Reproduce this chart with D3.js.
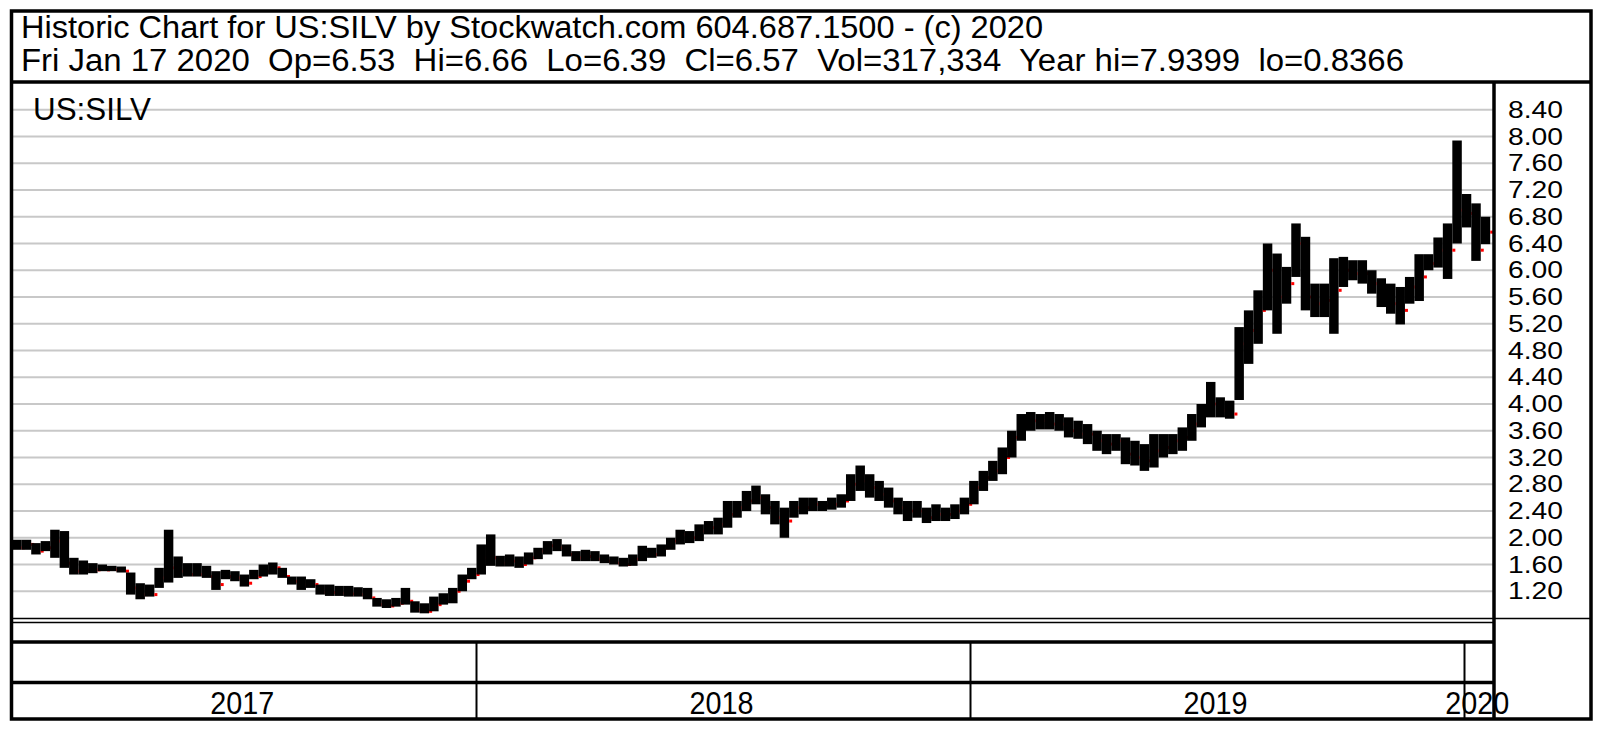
<!DOCTYPE html>
<html><head><meta charset="utf-8">
<script src="https://cdn.jsdelivr.net/npm/d3@7/dist/d3.min.js"></script>
<style>html,body{margin:0;padding:0;background:#fff;}svg{display:block;font-family:"Liberation Sans",Arial,sans-serif;}</style>
</head><body>
<svg id="chart" width="1600" height="730"></svg>
<script>
// ---- data (weekly high / low / close) ----
const firstWeek = new Date(2017, 0, 23);
const highs = [1.97,1.97,1.92,1.95,2.12,2.10,1.70,1.66,1.62,1.60,
  1.58,1.57,1.48,1.32,1.30,1.55,2.12,1.72,1.62,1.62,
  1.58,1.50,1.52,1.50,1.45,1.52,1.60,1.63,1.55,1.42,
  1.42,1.38,1.30,1.30,1.28,1.28,1.26,1.25,1.10,1.08,
  1.10,1.25,1.05,1.02,1.12,1.17,1.25,1.45,1.55,1.90,
  2.05,1.73,1.75,1.72,1.78,1.85,1.95,1.98,1.90,1.80,
  1.82,1.80,1.75,1.72,1.70,1.75,1.88,1.85,1.90,2.00,
  2.12,2.10,2.20,2.25,2.30,2.55,2.55,2.70,2.78,2.65,
  2.55,2.45,2.55,2.60,2.60,2.55,2.60,2.65,2.95,3.08,
  2.95,2.85,2.75,2.60,2.55,2.55,2.45,2.50,2.45,2.50,
  2.60,2.85,3.00,3.15,3.35,3.60,3.85,3.88,3.85,3.88,
  3.85,3.80,3.75,3.70,3.60,3.55,3.55,3.50,3.45,3.40,
  3.55,3.55,3.55,3.65,3.85,4.00,4.33,4.10,4.05,5.15,
  5.40,5.70,6.40,6.25,6.05,6.70,6.50,5.80,5.80,6.18,
  6.20,6.15,6.15,6.00,5.88,5.80,5.75,5.90,6.24,6.24,
  6.49,6.70,7.94,7.14,7.00,6.80];
const lows = [1.82,1.82,1.75,1.80,1.70,1.55,1.45,1.45,1.47,1.50,
  1.50,1.48,1.15,1.08,1.12,1.25,1.33,1.40,1.42,1.42,
  1.40,1.22,1.38,1.35,1.27,1.38,1.42,1.45,1.40,1.30,
  1.22,1.25,1.15,1.13,1.13,1.12,1.12,1.08,0.97,0.95,
  0.97,1.00,0.88,0.87,0.90,1.00,1.02,1.20,1.38,1.45,
  1.58,1.57,1.57,1.55,1.60,1.68,1.75,1.80,1.72,1.65,
  1.65,1.65,1.62,1.60,1.57,1.58,1.65,1.70,1.72,1.82,
  1.90,1.92,1.95,2.05,2.05,2.15,2.30,2.40,2.50,2.35,
  2.20,2.00,2.30,2.35,2.40,2.40,2.42,2.45,2.55,2.70,
  2.60,2.55,2.45,2.35,2.25,2.30,2.22,2.25,2.25,2.28,
  2.35,2.50,2.70,2.85,2.95,3.20,3.45,3.60,3.62,3.62,
  3.60,3.50,3.48,3.40,3.30,3.25,3.30,3.10,3.08,3.00,
  3.05,3.20,3.25,3.30,3.45,3.65,3.80,3.80,3.78,4.06,
  4.60,4.90,5.40,5.05,5.50,5.90,5.40,5.30,5.30,5.05,
  5.75,5.85,5.80,5.65,5.45,5.35,5.19,5.50,5.54,6.00,
  6.04,5.87,6.40,6.64,6.14,6.39];
const closes = [1.85,1.90,1.80,1.85,1.95,1.62,1.50,1.52,1.52,1.52,
  1.52,1.50,1.25,1.15,1.15,1.40,1.55,1.50,1.45,1.45,
  1.42,1.30,1.42,1.40,1.32,1.42,1.50,1.55,1.42,1.35,
  1.30,1.30,1.18,1.18,1.17,1.16,1.15,1.10,1.00,0.98,
  1.02,1.05,0.92,0.90,1.00,1.05,1.20,1.35,1.45,1.70,
  1.70,1.62,1.65,1.60,1.70,1.80,1.88,1.85,1.75,1.70,
  1.72,1.68,1.65,1.62,1.60,1.68,1.80,1.75,1.85,1.95,
  2.05,2.00,2.10,2.15,2.20,2.35,2.45,2.55,2.60,2.45,
  2.30,2.25,2.45,2.45,2.50,2.48,2.50,2.55,2.80,2.85,
  2.75,2.65,2.55,2.45,2.40,2.40,2.30,2.35,2.35,2.40,
  2.50,2.75,2.90,3.00,3.20,3.50,3.70,3.75,3.75,3.70,
  3.70,3.60,3.55,3.55,3.45,3.40,3.45,3.25,3.20,3.15,
  3.30,3.35,3.45,3.50,3.70,3.85,4.00,3.90,3.85,4.90,
  5.10,5.40,6.00,5.60,5.80,6.40,5.60,5.50,5.55,5.70,
  6.00,5.95,5.95,5.80,5.65,5.50,5.40,5.75,5.90,6.10,
  6.30,6.30,6.90,6.85,6.30,6.57];
const priceTicks = [1.20,1.60,2.00,2.40,2.80,3.20,3.60,4.00,4.40,4.80,5.20,5.60,6.00,6.40,6.80,7.20,7.60,8.00,8.40];
const yearLabels = ["2017","2018","2019","2020"];
const yearStarts = [new Date(2017,0,1), new Date(2018,0,1), new Date(2019,0,1), new Date(2020,0,1)];
const titleLine1 = "Historic Chart for US:SILV by Stockwatch.com 604.687.1500 - (c) 2020";
const titleLine2 = "Fri Jan 17 2020  Op=6.53  Hi=6.66  Lo=6.39  Cl=6.57  Vol=317,334  Year hi=7.9399  lo=0.8366";
const symbolLabel = "US:SILV";

// ---- layout ----
const L = 12, R = 1494, T = 83, B = 618, AXR = 1591, BOT = 719;
const svg = d3.select("#chart");

const x = d3.scaleTime().domain([new Date(2018,0,1), new Date(2020,0,1)]).range([476.5, 1464.5]);
const y = d3.scaleLinear().domain([0.8, 8.8]).range([B, T]);

svg.append("rect").attr("width",1600).attr("height",730).attr("fill","#fff");

// gridlines
svg.append("g").selectAll("line").data(priceTicks).join("line")
  .attr("x1", L).attr("x2", R).attr("y1", d=>y(d)).attr("y2", d=>y(d))
  .attr("stroke","#c8c8c8").attr("stroke-width",2);

// symbol label
svg.append("text").attr("x",33).attr("y",120).attr("font-size",31).attr("fill","#000")
  .attr("textLength",118).attr("lengthAdjust","spacingAndGlyphs").text(symbolLabel);

// bars
svg.append("clipPath").attr("id","plotclip").append("rect")
  .attr("x",L+1).attr("y",T).attr("width",R-L-1).attr("height",B-T);
const bars = svg.append("g").attr("clip-path","url(#plotclip)");
const weeks = highs.map((h,i)=>({d: d3.timeDay.offset(firstWeek, 7*i), h, l: lows[i], c: closes[i]}));
weeks.forEach(w=>{
  const x0 = x(w.d), x1 = x(d3.timeDay.offset(w.d,7));
  bars.append("rect").attr("x",x0).attr("width",x1-x0)
    .attr("y",y(w.h)).attr("height",Math.max(2,y(w.l)-y(w.h))).attr("fill","#000");
  bars.append("rect").attr("x",x1).attr("width",3)
    .attr("y",y(w.c)-1.5).attr("height",3).attr("fill","#ff0000");
});

// price axis labels
svg.append("g").selectAll("text").data(priceTicks).join("text")
  .attr("x",1508).attr("y",d=>y(d)+8).attr("font-size",23.5).attr("fill","#000")
  .attr("textLength",55).attr("lengthAdjust","spacingAndGlyphs")
  .text(d=>d.toFixed(2));

// frame lines
const line = (x1,y1,x2,y2,w)=>svg.append("line").attr("x1",x1).attr("y1",y1).attr("x2",x2).attr("y2",y2)
  .attr("stroke","#000").attr("stroke-width",w);
line(L,B+0.5,R,B+0.5,1.5);
line(L,B+4.5,R,B+4.5,1.5);
line(L,642,R,642,3.5);
line(L,682.5,R,682.5,3.5);
line(R,B+0.5,AXR,B+0.5,1.5);
line(L-1,82,AXR+1,82,3.5);
line(R,T,R,BOT,3.5);

// year dividers and labels
const xs = yearStarts.map(d=>Math.max(L, x(d)));
yearStarts.forEach((d,i)=>{
  if (i>0) line(x(d),642,x(d),BOT,2);
});
yearLabels.forEach((t,i)=>{
  const a = xs[i], b = i<3 ? xs[i+1] : R;
  svg.append("text").attr("x",(a+b)/2-2).attr("y",714).attr("font-size",31)
    .attr("text-anchor","middle").attr("fill","#000")
    .attr("textLength",64).attr("lengthAdjust","spacingAndGlyphs").text(t);
});

// title
[titleLine1, titleLine2].forEach((t,i)=>{
  svg.append("text").attr("x",21).attr("y",i?71:38).attr("font-size",31).attr("fill","#000")
    .attr("xml:space","preserve").style("white-space","pre")
    .attr("textLength",i?1383:1022).attr("lengthAdjust","spacingAndGlyphs").text(t);
});

// outer border
svg.append("rect").attr("x",11.5).attr("y",11).attr("width",AXR-11.5).attr("height",BOT-11)
  .attr("fill","none").attr("stroke","#000").attr("stroke-width",3.5);
</script>
</body></html>
